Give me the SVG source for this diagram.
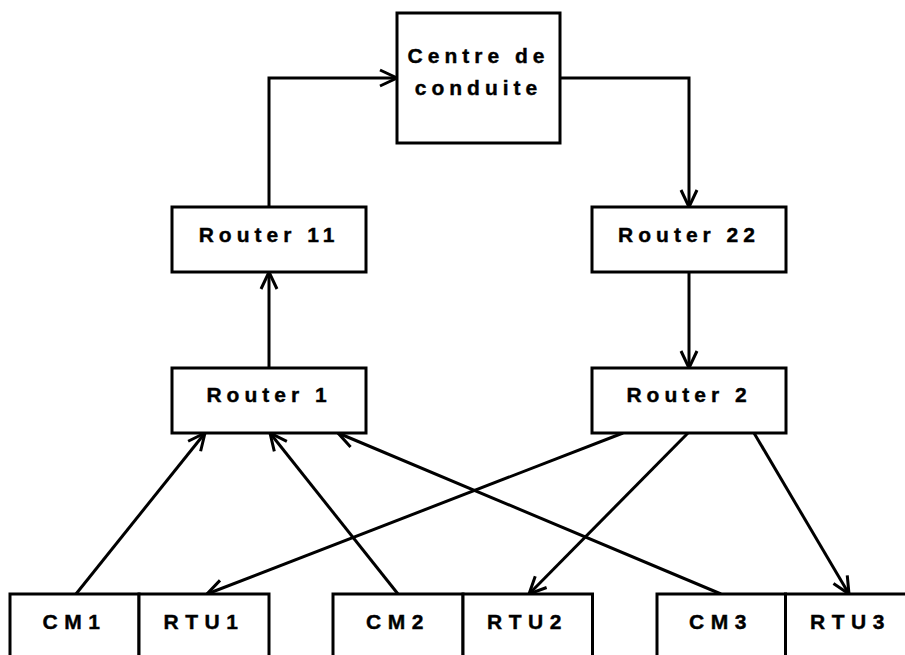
<svg xmlns="http://www.w3.org/2000/svg" width="905" height="655" viewBox="0 0 905 655">
<style>
.box{fill:#fff;stroke:#000;stroke-width:3}
.lbl{font-family:"Liberation Sans",Arial,sans-serif;font-weight:bold;font-size:21px;fill:#000;stroke:#000;stroke-width:0.4;text-anchor:middle;letter-spacing:5px}
.lbl2{font-family:"Liberation Sans",Arial,sans-serif;font-weight:bold;font-size:21px;fill:#000;stroke:#000;stroke-width:0.4;text-anchor:middle;letter-spacing:6.5px}
.con{fill:none;stroke:#000;stroke-width:3;marker-end:url(#arr)}
</style>
<defs>
<marker id="arr" markerUnits="userSpaceOnUse" markerWidth="40" markerHeight="40" viewBox="-20 -20 40 40" refX="0" refY="0" orient="auto" overflow="visible">
<path d="M-17,-8 L0,0 L-17,8" fill="none" stroke="#000" stroke-width="3"/>
</marker>
</defs>
<rect width="905" height="655" fill="#fff"/>
<g id="connectors">
<path class="con" d="M269,207 V78 H397"/>
<path class="con" d="M560,78 H689 V207"/>
<path class="con" d="M269,368 V272"/>
<path class="con" d="M689,272 V368"/>
<path class="con" d="M76,594 L205,433"/>
<path class="con" d="M398,594 L270,433"/>
<path class="con" d="M721,594 L338,433"/>
<path class="con" d="M623,433 L207,594"/>
<path class="con" d="M688,433 L529,594"/>
<path class="con" d="M754,433 L849,594"/>
</g>
<g id="centre">
<rect class="box" x="397" y="13" width="163" height="130"/>
<text class="lbl" x="478.5" y="63">Centre de</text>
<text class="lbl" x="478.5" y="95">conduite</text>
</g>
<g id="router11">
<rect class="box" x="172" y="207" width="194" height="65"/>
<text class="lbl" x="269" y="242">Router 11</text>
</g>
<g id="router22">
<rect class="box" x="592" y="207" width="194" height="65"/>
<text class="lbl" x="689" y="242">Router 22</text>
</g>
<g id="router1">
<rect class="box" x="172" y="368" width="194" height="65"/>
<text class="lbl" x="269" y="402">Router 1</text>
</g>
<g id="router2">
<rect class="box" x="592" y="368" width="194" height="65"/>
<text class="lbl" x="689" y="402">Router 2</text>
</g>
<g id="cm1">
<rect class="box" x="10" y="594" width="129" height="80"/>
<text class="lbl2" x="74.5" y="629">CM1</text>
</g>
<g id="rtu1">
<rect class="box" x="139" y="594" width="130" height="80"/>
<text class="lbl2" x="204" y="629">RTU1</text>
</g>
<g id="cm2">
<rect class="box" x="333" y="594" width="130" height="80"/>
<text class="lbl2" x="398" y="629">CM2</text>
</g>
<g id="rtu2">
<rect class="box" x="463" y="594" width="129.5" height="80"/>
<text class="lbl2" x="527.5" y="629">RTU2</text>
</g>
<g id="cm3">
<rect class="box" x="657" y="594" width="128.5" height="80"/>
<text class="lbl2" x="721" y="629">CM3</text>
</g>
<g id="rtu3">
<rect class="box" x="785.5" y="594" width="130" height="80"/>
<text class="lbl2" x="850.5" y="629">RTU3</text>
</g>
</svg>
